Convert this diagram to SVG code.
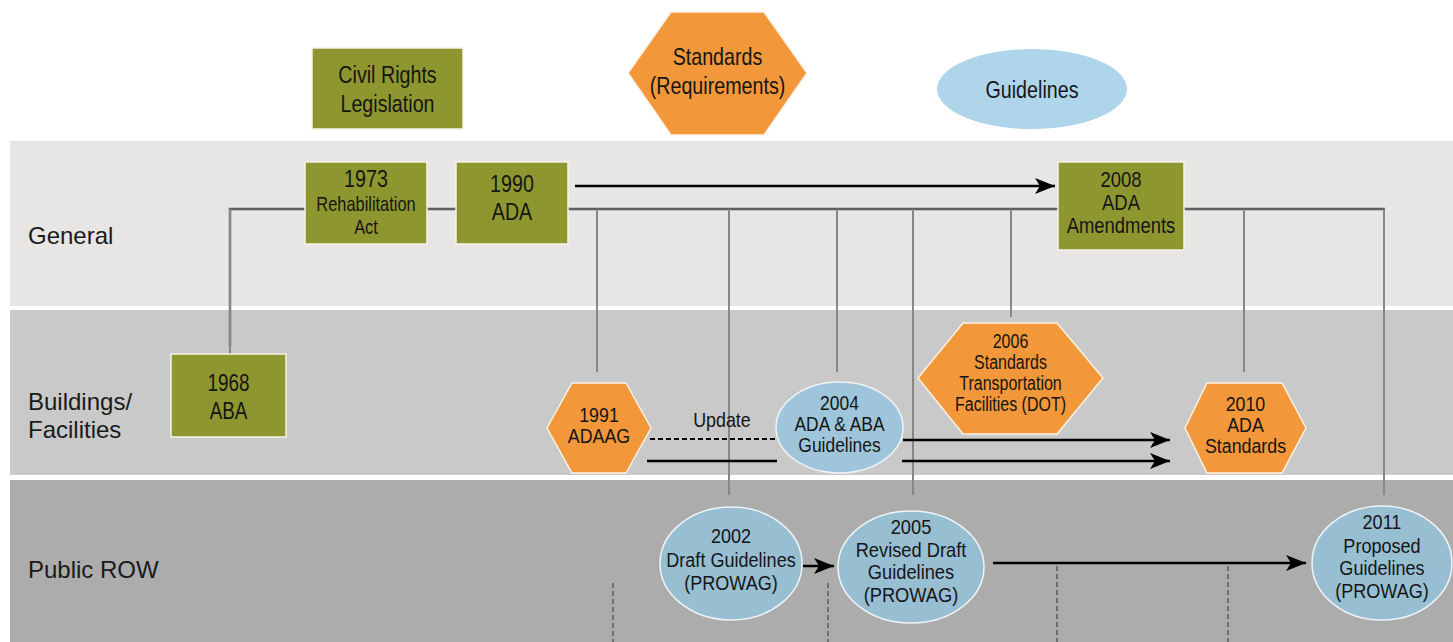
<svg xmlns="http://www.w3.org/2000/svg" width="1453" height="642" viewBox="0 0 1453 642">
  <style>
    .band-label { font-family: "Liberation Sans", Arial, sans-serif; font-size: 24px; fill: #1a1a1a; }
    .t { font-family: "Liberation Sans Narrow", "Liberation Sans", Arial, sans-serif; fill: #151515; text-anchor: middle; }
    .law { fill: #8e972f; stroke: #f4f4e8; stroke-width: 1.5; }
    .std { fill: #f2973a; stroke: #fbf2e6; stroke-width: 1.5; }
    .gdl { stroke: #eef4f8; stroke-width: 1.5; }
    .trunk { fill: none; stroke: #5f5f5f; stroke-width: 2.5; }
    .branch { fill: none; stroke: #878787; stroke-width: 2; }
    .arrow { fill: none; stroke: #000; stroke-width: 2.5; }
    .dash-v { fill: none; stroke: #6f6f6f; stroke-width: 2; stroke-dasharray: 5 3; }
  </style>
  <defs>
    <marker id="head" markerUnits="userSpaceOnUse" markerWidth="22" markerHeight="18" refX="20" refY="8" orient="auto">
      <path d="M0,0 L20,8 L0,16 L5,8 z" fill="#000"/>
    </marker>
  </defs>

  <rect width="1453" height="642" fill="#ffffff"/>

  <!-- swim lanes -->
  <g id="lanes">
    <rect x="10" y="141" width="1443" height="165" fill="#e7e6e4"/>
    <rect x="10" y="310" width="1443" height="165" fill="#c9c9c9"/>
    <rect x="10" y="480" width="1443" height="162" fill="#acacac"/>
    <text class="band-label" x="28" y="244">General</text>
    <text class="band-label" x="28" y="410">Buildings/</text>
    <text class="band-label" x="28" y="438">Facilities</text>
    <text class="band-label" x="28" y="578">Public ROW</text>
  </g>

  <!-- connectors -->
  <g id="connectors">
    <!-- timeline trunk -->
    <polyline class="trunk" points="230,346 230,209 305,209"/>
    <line class="trunk" x1="427" y1="209" x2="456" y2="209"/>
    <line class="trunk" x1="568" y1="209" x2="1058" y2="209"/>
    <polyline class="trunk" points="1184,209 1385,209"/>
    <!-- drops to each document -->
    <line class="branch" x1="230" y1="209" x2="230" y2="354"/>
    <line class="branch" x1="597" y1="209" x2="597" y2="372"/>
    <line class="branch" x1="729" y1="209" x2="729" y2="495"/>
    <line class="branch" x1="837" y1="209" x2="837" y2="372"/>
    <line class="branch" x1="913" y1="209" x2="913" y2="495"/>
    <line class="branch" x1="1011" y1="209" x2="1011" y2="317"/>
    <line class="branch" x1="1244" y1="209" x2="1244" y2="372"/>
    <line class="branch" x1="1384" y1="209" x2="1384" y2="495"/>

    <!-- ADA to 2008 amendments -->
    <line class="arrow" x1="575" y1="186" x2="1055" y2="186" marker-end="url(#head)"/>

    <!-- update path -->
    <line x1="650" y1="439" x2="776" y2="439" stroke="#000" stroke-width="2" stroke-dasharray="5 3"/>
    <line class="arrow" x1="647" y1="461" x2="777" y2="461"/>
    <line class="arrow" x1="903" y1="440" x2="1170" y2="440" marker-end="url(#head)"/>
    <line class="arrow" x1="902" y1="461" x2="1170" y2="461" marker-end="url(#head)"/>
    <text class="t" x="722" y="427" font-size="21" transform="matrix(0.85,0,0,1,108.3,0)">Update</text>

    <!-- PROWAG progression -->
    <line class="arrow" x1="803" y1="566" x2="834" y2="566" marker-end="url(#head)"/>
    <line class="arrow" x1="993" y1="563" x2="1306" y2="563" marker-end="url(#head)"/>

    <!-- dashed markers -->
    <line class="dash-v" x1="613" y1="583" x2="613" y2="642"/>
    <line class="dash-v" x1="828" y1="583" x2="828" y2="642"/>
    <line class="dash-v" x1="1057" y1="566" x2="1057" y2="642"/>
    <line class="dash-v" x1="1228" y1="566" x2="1228" y2="642"/>
  </g>

  <!-- legend -->
  <g id="legend-legislation">
    <rect class="law" x="312" y="48" width="151" height="81"/>
    <g transform="matrix(0.82,0,0,1,69.75,0)">
      <text class="t" x="387.5" y="83" font-size="24">Civil Rights</text>
      <text class="t" x="387.5" y="112" font-size="24">Legislation</text>
    </g>
  </g>
  <g id="legend-standards">
    <polygon class="std" points="628,73 671,12 764,12 807,73 764,135 671,135"/>
    <g transform="matrix(0.82,0,0,1,129.15,0)">
      <text class="t" x="717.5" y="65" font-size="24">Standards</text>
      <text class="t" x="717.5" y="94" font-size="24">(Requirements)</text>
    </g>
  </g>
  <g id="legend-guidelines">
    <ellipse cx="1032" cy="89" rx="95" ry="40" fill="#afd5eb"/>
    <text class="t" x="1032" y="98" font-size="24" transform="matrix(0.82,0,0,1,185.76,0)">Guidelines</text>
  </g>

  <!-- General -->
  <g id="rehab-1973">
    <rect class="law" x="305" y="162" width="122" height="82"/>
    <g transform="matrix(0.82,0,0,1,65.88,0)">
      <text class="t" x="366" y="187" font-size="24">1973</text>
      <text class="t" x="366" y="211" font-size="20">Rehabilitation</text>
      <text class="t" x="366" y="234" font-size="20">Act</text>
    </g>
  </g>
  <g id="ada-1990">
    <rect class="law" x="456" y="162" width="112" height="82"/>
    <g transform="matrix(0.82,0,0,1,92.16,0)">
      <text class="t" x="512" y="192" font-size="24">1990</text>
      <text class="t" x="512" y="220" font-size="24">ADA</text>
    </g>
  </g>
  <g id="ada-amendments-2008">
    <rect class="law" x="1058" y="162" width="126" height="88"/>
    <g transform="matrix(0.82,0,0,1,201.78,0)">
      <text class="t" x="1121" y="187" font-size="22.5">2008</text>
      <text class="t" x="1121" y="210" font-size="22.5">ADA</text>
      <text class="t" x="1121" y="233" font-size="22.5">Amendments</text>
    </g>
  </g>

  <!-- Buildings / Facilities -->
  <g id="aba-1968">
    <rect class="law" x="171" y="354" width="115" height="83"/>
    <g transform="matrix(0.82,0,0,1,41.13,0)">
      <text class="t" x="228.5" y="391" font-size="23">1968</text>
      <text class="t" x="228.5" y="419" font-size="23">ABA</text>
    </g>
  </g>
  <g id="adaag-1991">
    <polygon class="std" points="547,428 572,383 626,383 651,428 626,473 572,473"/>
    <g transform="matrix(0.85,0,0,1,89.85,0)">
      <text class="t" x="599" y="422" font-size="21">1991</text>
      <text class="t" x="599" y="443" font-size="21">ADAAG</text>
    </g>
  </g>
  <g id="guidelines-2004">
    <ellipse class="gdl" cx="839.5" cy="427.5" rx="63.5" ry="45.5" fill="#9fc5da"/>
    <g transform="matrix(0.83,0,0,1,142.715,0)">
      <text class="t" x="839.5" y="410" font-size="21">2004</text>
      <text class="t" x="839.5" y="431" font-size="21">ADA &amp; ABA</text>
      <text class="t" x="839.5" y="452" font-size="21">Guidelines</text>
    </g>
  </g>
  <g id="dot-standards-2006">
    <polygon class="std" points="918,378 963,323 1057,323 1103,378 1057,434 963,434"/>
    <g transform="matrix(0.82,0,0,1,181.89,0)">
      <text class="t" x="1010.5" y="348" font-size="19.5">2006</text>
      <text class="t" x="1010.5" y="369" font-size="19.5">Standards</text>
      <text class="t" x="1010.5" y="390" font-size="19.5">Transportation</text>
      <text class="t" x="1010.5" y="411" font-size="19.5">Facilities (DOT)</text>
    </g>
  </g>
  <g id="ada-standards-2010">
    <polygon class="std" points="1185,428 1207,383 1282,383 1306,428 1282,473 1207,473"/>
    <g transform="matrix(0.89,0,0,1,137.005,0)">
      <text class="t" x="1245.5" y="411" font-size="20">2010</text>
      <text class="t" x="1245.5" y="432" font-size="20">ADA</text>
      <text class="t" x="1245.5" y="453" font-size="20">Standards</text>
    </g>
  </g>

  <!-- Public ROW -->
  <g id="prowag-2002">
    <ellipse class="gdl" cx="731" cy="563.5" rx="71" ry="56.5" fill="#98bed2"/>
    <g transform="matrix(0.86,0,0,1,102.34,0)">
      <text class="t" x="731" y="543" font-size="21">2002</text>
      <text class="t" x="731" y="567" font-size="21">Draft Guidelines</text>
      <text class="t" x="731" y="590" font-size="21">(PROWAG)</text>
    </g>
  </g>
  <g id="prowag-2005">
    <ellipse class="gdl" cx="911" cy="567" rx="73" ry="56" fill="#98bed2"/>
    <g transform="matrix(0.87,0,0,1,118.43,0)">
      <text class="t" x="911" y="534" font-size="21">2005</text>
      <text class="t" x="911" y="557" font-size="21">Revised Draft</text>
      <text class="t" x="911" y="579" font-size="21">Guidelines</text>
      <text class="t" x="911" y="602" font-size="21">(PROWAG)</text>
    </g>
  </g>
  <g id="prowag-2011">
    <ellipse class="gdl" cx="1382" cy="563" rx="70" ry="57" fill="#98bed2"/>
    <g transform="matrix(0.86,0,0,1,193.48,0)">
      <text class="t" x="1382" y="529" font-size="21">2011</text>
      <text class="t" x="1382" y="553" font-size="21">Proposed</text>
      <text class="t" x="1382" y="575" font-size="21">Guidelines</text>
      <text class="t" x="1382" y="598" font-size="21">(PROWAG)</text>
    </g>
  </g>
</svg>
